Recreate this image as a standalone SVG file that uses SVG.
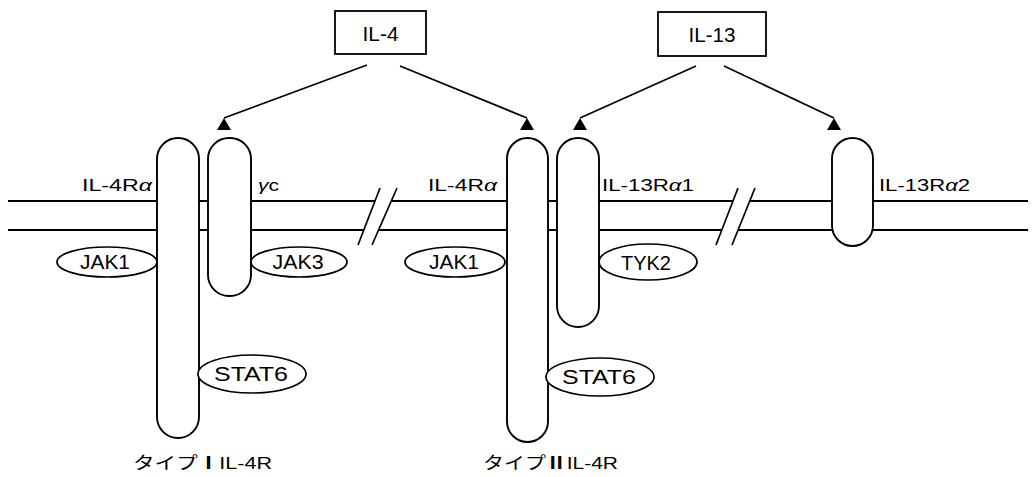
<svg xmlns="http://www.w3.org/2000/svg" width="1034" height="477" viewBox="0 0 1034 477">
<defs>
<style>
text{font-family:"Liberation Sans",Arial,"Noto Sans CJK JP",sans-serif;fill:#000}
.box{fill:#fff;stroke:#000;stroke-width:1.8}
.rec{fill:#fff;stroke:#000;stroke-width:1.9}
.enz{fill:#fff;stroke:#000;stroke-width:1.7}
.mem{fill:none;stroke:#000;stroke-width:1.9}
.arr{fill:none;stroke:#000;stroke-width:1.7;marker-end:url(#tri)}
.sl{fill:none;stroke:#000;stroke-width:1.7}
.lig{font-size:21px;text-anchor:middle}
.lab{font-size:17px}
.ez{font-size:20px;text-anchor:middle}
.cap{font-size:17px}
.gr{font-style:italic}
.rn{font-family:"Noto Sans CJK JP",sans-serif;font-weight:bold}
</style>
<marker id="tri" viewBox="0 0 14 12" refX="7" refY="0" markerWidth="14" markerHeight="12" markerUnits="userSpaceOnUse" orient="0">
<path d="M7,0 L14,12 L0,12 Z" fill="#000"/>
</marker>
</defs>
<rect width="1034" height="477" fill="#fff"/>

<g id="membrane">
<path class="mem" d="M8,201 H375 M391,201 H733 M750,201 H1028"/>
<path class="mem" d="M8,230 H364 M379,230 H722 M738,230 H1028"/>
</g>

<g id="connectors">
<line class="arr" x1="367" y1="65" x2="224" y2="118"/>
<line class="arr" x1="400" y1="66" x2="527" y2="118"/>
<line class="arr" x1="696" y1="66" x2="580" y2="118"/>
<line class="arr" x1="724" y1="66" x2="834" y2="118"/>
<line class="sl" x1="380" y1="188" x2="358" y2="245"/>
<line class="sl" x1="397" y1="188" x2="372" y2="245"/>
<line class="sl" x1="738" y1="188" x2="716" y2="245"/>
<line class="sl" x1="755" y1="188" x2="732" y2="245"/>
</g>

<g id="il4">
<rect class="box" x="335" y="11" width="91" height="43"/>
<text class="lig" x="380.5" y="41" textLength="36" lengthAdjust="spacingAndGlyphs">IL-4</text>
</g>
<g id="il13">
<rect class="box" x="658" y="12" width="108" height="44"/>
<text class="lig" x="712" y="42" textLength="47" lengthAdjust="spacingAndGlyphs">IL-13</text>
</g>

<g id="il4ra-1">
<rect class="rec" x="157" y="138" width="42" height="300" rx="21"/>
<text class="lab" x="82" y="191" textLength="70" lengthAdjust="spacingAndGlyphs">IL-4R<tspan class="gr">α</tspan></text>
</g>
<g id="gc">
<rect class="rec" x="208" y="138" width="43" height="158" rx="21"/>
<text class="lab" x="258" y="191" textLength="21" lengthAdjust="spacingAndGlyphs"><tspan class="gr">γ</tspan>c</text>
</g>
<g id="il4ra-2">
<rect class="rec" x="507" y="138" width="41" height="304" rx="20.5"/>
<text class="lab" x="428" y="191" textLength="69" lengthAdjust="spacingAndGlyphs">IL-4R<tspan class="gr">α</tspan></text>
</g>
<g id="il13ra1">
<rect class="rec" x="557" y="138" width="42" height="189" rx="21"/>
<text class="lab" x="602" y="191" textLength="92" lengthAdjust="spacingAndGlyphs">IL-13R<tspan class="gr">α</tspan>1</text>
</g>
<g id="il13ra2">
<rect class="rec" x="832" y="138" width="41" height="108" rx="20.5"/>
<text class="lab" x="879" y="191" textLength="91" lengthAdjust="spacingAndGlyphs">IL-13R<tspan class="gr">α</tspan>2</text>
</g>

<g id="jak1-a">
<ellipse class="enz" cx="107" cy="262" rx="50" ry="15"/>
<text class="ez" x="105" y="269" textLength="50" lengthAdjust="spacingAndGlyphs">JAK1</text>
</g>
<g id="jak3">
<ellipse class="enz" cx="299" cy="262" rx="48" ry="15"/>
<text class="ez" x="298" y="269" textLength="51" lengthAdjust="spacingAndGlyphs">JAK3</text>
</g>
<g id="jak1-b">
<ellipse class="enz" cx="455" cy="262" rx="50" ry="15"/>
<text class="ez" x="454" y="269" textLength="50" lengthAdjust="spacingAndGlyphs">JAK1</text>
</g>
<g id="tyk2">
<ellipse class="enz" cx="648" cy="262" rx="49" ry="18"/>
<text class="ez" x="646" y="270" textLength="50" lengthAdjust="spacingAndGlyphs">TYK2</text>
</g>
<g id="stat6-a">
<ellipse class="enz" cx="252" cy="374" rx="54" ry="19"/>
<text class="ez" x="251" y="381" textLength="74" lengthAdjust="spacingAndGlyphs">STAT6</text>
</g>
<g id="stat6-b">
<ellipse class="enz" cx="600" cy="377" rx="54" ry="19"/>
<text class="ez" x="599" y="384" textLength="74" lengthAdjust="spacingAndGlyphs">STAT6</text>
</g>

<g id="caption-1">
<text class="cap" x="133" y="469" textLength="139" lengthAdjust="spacingAndGlyphs">タイプ<tspan class="rn">Ⅰ</tspan>IL-4R</text>
</g>
<g id="caption-2">
<text class="cap" x="483" y="469" textLength="135" lengthAdjust="spacingAndGlyphs">タイプ<tspan class="rn">Ⅱ</tspan>IL-4R</text>
</g>
</svg>
